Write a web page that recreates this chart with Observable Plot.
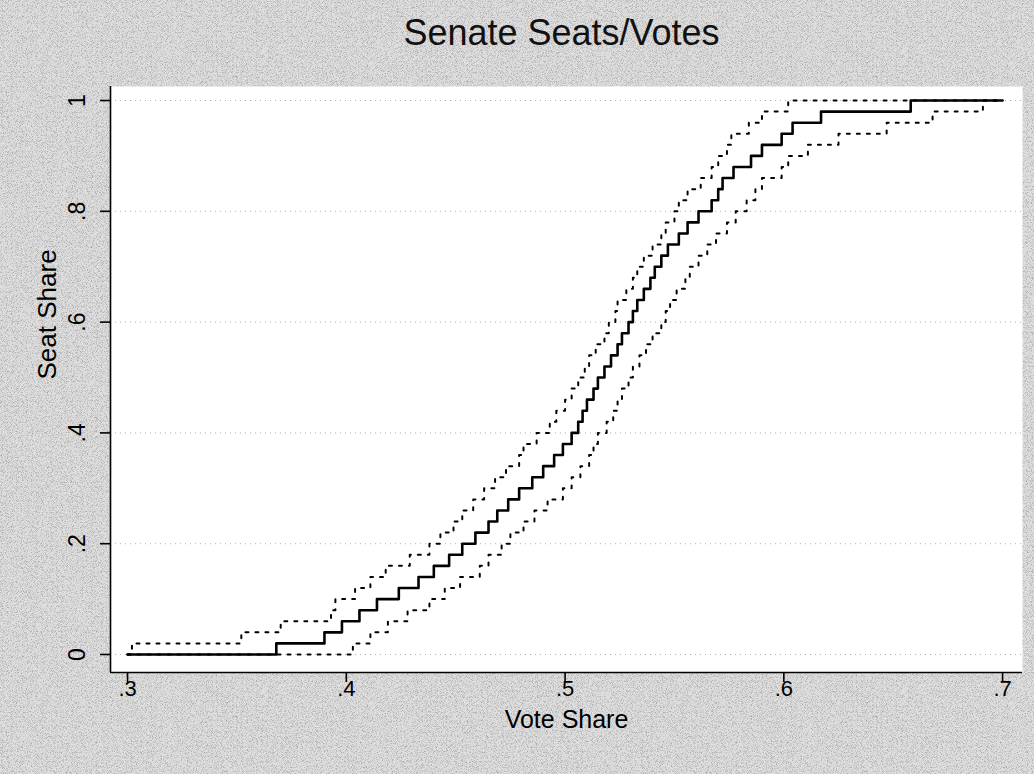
<!DOCTYPE html>
<html>
<head>
<meta charset="utf-8">
<script src="https://cdn.jsdelivr.net/npm/d3@7"></script>
<script src="https://cdn.jsdelivr.net/npm/@observablehq/plot@0.6"></script>
<style>
  html, body { margin: 0; padding: 0; background: #d8d8d8; }
  #wrap { position: relative; width: 1034px; height: 774px; }
  #grain { position: absolute; left: 0; top: 0; }
  #chart { position: absolute; left: 0; top: 0; }
  #chart svg { display: block; }
</style>
</head>
<body>
<div id="wrap">
  <svg id="grain" width="1034" height="774">
    <filter id="noise" x="0" y="0" width="100%" height="100%" color-interpolation-filters="sRGB">
      <feTurbulence type="fractalNoise" baseFrequency="1.2" numOctaves="1" seed="7" result="t"/>
      <feColorMatrix in="t" type="matrix"
        values="0 0 0 0 0  0 0 0 0 0  0 0 0 0 0  4 0 0 0 -1.9"/>
    </filter>
    <rect width="1034" height="774" fill="#dedede"/>
    <rect width="1034" height="774" fill="#000" filter="url(#noise)" opacity="0.22"/>
  </svg>
  <div id="chart"></div>
</div>
<script>
// Seats/votes curve for the Senate: vote share at which each step begins, and the seat share reached.
const centerVote = [0.300, 0.368, 0.390, 0.398, 0.406, 0.414, 0.424, 0.433, 0.440, 0.447,
  0.453, 0.459, 0.465, 0.469, 0.474, 0.479, 0.485, 0.490, 0.495, 0.499,
  0.503, 0.506, 0.508, 0.510, 0.513, 0.515, 0.518, 0.521, 0.524, 0.526,
  0.529, 0.531, 0.533, 0.536, 0.539, 0.541, 0.544, 0.547, 0.552, 0.556,
  0.561, 0.567, 0.570, 0.572, 0.577, 0.585, 0.590, 0.599, 0.604, 0.617,
  0.658, 0.700];
const centerSeat = [0.00, 0.02, 0.04, 0.06, 0.08, 0.10, 0.12, 0.14, 0.16, 0.18,
  0.20, 0.22, 0.24, 0.26, 0.28, 0.30, 0.32, 0.34, 0.36, 0.38,
  0.40, 0.42, 0.44, 0.46, 0.48, 0.50, 0.52, 0.54, 0.56, 0.58,
  0.60, 0.62, 0.64, 0.66, 0.68, 0.70, 0.72, 0.74, 0.76, 0.78,
  0.80, 0.82, 0.84, 0.86, 0.88, 0.90, 0.92, 0.94, 0.96, 0.98,
  1.00, 1.00];

// Upper bound of the interval
const upperVote = [0.300, 0.302, 0.352, 0.370, 0.393, 0.395, 0.404, 0.411, 0.418, 0.429,
  0.438, 0.443, 0.449, 0.453, 0.458, 0.463, 0.468, 0.473, 0.479, 0.481,
  0.487, 0.493, 0.496, 0.500, 0.503, 0.506, 0.509, 0.511, 0.514, 0.518,
  0.520, 0.523, 0.524, 0.528, 0.531, 0.533, 0.536, 0.540, 0.544, 0.546,
  0.550, 0.552, 0.556, 0.562, 0.567, 0.570, 0.574, 0.576, 0.584, 0.590,
  0.602, 0.700];
const upperSeat = [0.00, 0.02, 0.04, 0.06, 0.08, 0.10, 0.12, 0.14, 0.16, 0.18,
  0.20, 0.22, 0.24, 0.26, 0.28, 0.30, 0.32, 0.34, 0.36, 0.38,
  0.40, 0.42, 0.44, 0.46, 0.48, 0.50, 0.52, 0.54, 0.56, 0.58,
  0.60, 0.62, 0.64, 0.66, 0.68, 0.70, 0.72, 0.74, 0.76, 0.78,
  0.80, 0.82, 0.84, 0.86, 0.88, 0.90, 0.92, 0.94, 0.96, 0.98,
  1.00, 1.00];

// Lower bound of the interval
const lowerVote = [0.300, 0.403, 0.411, 0.419, 0.428, 0.438, 0.445, 0.452, 0.461, 0.465,
  0.471, 0.475, 0.481, 0.486, 0.492, 0.499, 0.503, 0.507, 0.511, 0.513,
  0.515, 0.519, 0.522, 0.524, 0.526, 0.529, 0.531, 0.534, 0.537, 0.540,
  0.544, 0.546, 0.548, 0.551, 0.555, 0.557, 0.561, 0.565, 0.569, 0.574,
  0.578, 0.583, 0.587, 0.590, 0.599, 0.602, 0.611, 0.625, 0.647, 0.668,
  0.691, 0.700];
const lowerSeat = [0.00, 0.02, 0.04, 0.06, 0.08, 0.10, 0.12, 0.14, 0.16, 0.18,
  0.20, 0.22, 0.24, 0.26, 0.28, 0.30, 0.32, 0.34, 0.36, 0.38,
  0.40, 0.42, 0.44, 0.46, 0.48, 0.50, 0.52, 0.54, 0.56, 0.58,
  0.60, 0.62, 0.64, 0.66, 0.68, 0.70, 0.72, 0.74, 0.76, 0.78,
  0.80, 0.82, 0.84, 0.86, 0.88, 0.90, 0.92, 0.94, 0.96, 0.98,
  1.00, 1.00];

const xTicks = [0.3, 0.4, 0.5, 0.6, 0.7];
const xTickLabels = [".3", ".4", ".5", ".6", ".7"];
const yTicks = [0, 0.2, 0.4, 0.6, 0.8, 1];
const yTickLabels = ["0", ".2", ".4", ".6", ".8", "1"];

const toRows = (votes, seats) => votes.map((v, i) => ({vote: v, seat: seats[i]}));
const center = toRows(centerVote, centerSeat);
const upper = toRows(upperVote, upperSeat);
const lower = toRows(lowerVote, lowerSeat);

const xDomain = [0.2922, 0.7091];
const yDomain = [-0.0325, 1.0253];
const font = "'Liberation Sans', Arial, Helvetica, sans-serif";
const band = {x: "vote", y: "seat", curve: "step-after", stroke: "#000", strokeWidth: 2, strokeDasharray: "3 7"};

const chart = Plot.plot({
  width: 1034,
  height: 774,
  marginLeft: 110,
  marginRight: 12,
  marginTop: 86,
  marginBottom: 102,
  style: {background: "transparent", fontFamily: font, color: "#000", overflow: "visible"},
  x: {domain: xDomain},
  y: {domain: yDomain},
  marks: [
    Plot.frame({fill: "#fff", stroke: null}),
    Plot.ruleY(yTicks, {stroke: "#b0b0b0", strokeWidth: 1, strokeDasharray: "1 4"}),
    Plot.line(upper, band),
    Plot.line(lower, band),
    Plot.line(center, {x: "vote", y: "seat", curve: "step-after", stroke: "#000", strokeWidth: 2.6}),
    Plot.ruleX([xDomain[0]], {stroke: "#000", strokeWidth: 1.6}),
    Plot.ruleY([yDomain[0]], {stroke: "#000", strokeWidth: 1.6}),
    Plot.axisX({ticks: xTicks, tickFormat: d => xTickLabels[xTicks.indexOf(d)], tickSize: 10, tickPadding: -2, fontSize: 22, label: null, strokeWidth: 1.6}),
    Plot.axisY({ticks: yTicks, tickFormat: () => "", tickSize: 10, label: null, strokeWidth: 1.6}),
    Plot.text(yTicks, {y: d => d, text: (d, i) => yTickLabels[i], frameAnchor: "left", rotate: -90, dx: -33, fontSize: 23, textAnchor: "middle", lineAnchor: "middle"}),
    Plot.text(["Senate Seats/Votes"], {text: d => d, frameAnchor: "top", lineAnchor: "middle", dy: -53, dx: -5, fontSize: 36, fill: "#111"}),
    Plot.text(["Seat Share"], {text: d => d, frameAnchor: "left", lineAnchor: "middle", rotate: -90, dx: -63, fontSize: 26}),
    Plot.text(["Vote Share"], {text: d => d, frameAnchor: "bottom", lineAnchor: "middle", dy: 47, fontSize: 25})
  ]
});

document.getElementById("chart").append(chart);
</script>
</body>
</html>
